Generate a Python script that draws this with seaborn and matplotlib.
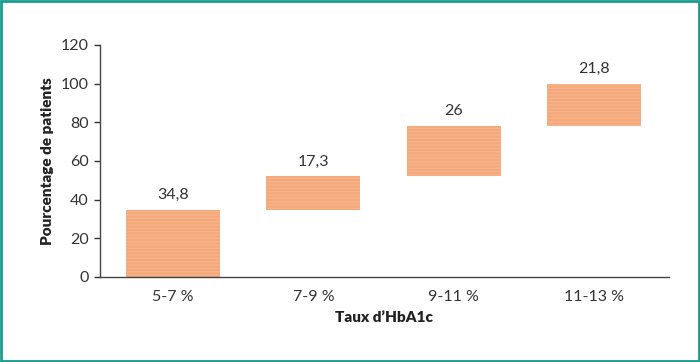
import numpy as np
import pandas as pd
import matplotlib.pyplot as plt
import seaborn as sns
from matplotlib.patches import Rectangle

categories = ['5-7 %', '7-9 %', '9-11 %', '11-13 %']
values = [34.8, 17.3, 26, 21.8]
labels = ['34,8', '17,3', '26', '21,8']

# waterfall: each bar starts where the previous one ended
bottoms = np.concatenate([[0], np.cumsum(values)[:-1]])
df = pd.DataFrame({'cat': categories, 'val': values, 'bottom': bottoms})

sns.set_style('white')
plt.rcParams['font.family'] = ['Lato', 'DejaVu Sans']
plt.rcParams['hatch.color'] = '#F7B892'

fig = plt.figure(figsize=(7, 3.62), dpi=100)
ax = fig.add_axes([0.143, 0.235, 0.812, 0.641])

sns.barplot(data=df, x='cat', y='val', bottom=df['bottom'].values, color='#F5A97A',
            saturation=1, width=0.67, ax=ax, hatch='-----', edgecolor='#F7B28A', linewidth=0)

for i, (b, v, lab) in enumerate(zip(bottoms, values, labels)):
    ax.text(i, b + v + 4, lab, ha='center', va='bottom', fontsize=11.5, color='#333333')

ax.set_ylim(0, 120)
ax.set_yticks(range(0, 121, 20))
ax.set_xlim(-0.52, 3.53)
ax.set_xlabel("Taux d’HbA1c", fontsize=11, fontweight='heavy', color='#222222', labelpad=5)
ax.set_ylabel('Pourcentage de patients', fontsize=11, fontweight='heavy', color='#222222', labelpad=5)
ax.tick_params(axis='y', left=True, length=4, width=1, color='#333333', labelsize=11.5, labelcolor='#333333', pad=4)
ax.tick_params(axis='x', bottom=False, labelsize=11.5, labelcolor='#333333', pad=6)
for s in ['top', 'right']:
    ax.spines[s].set_visible(False)
for s in ['left', 'bottom']:
    ax.spines[s].set_color('#444444')
    ax.spines[s].set_linewidth(1)

fig.patches.append(Rectangle((0.002, 0.003), 0.996, 0.994, transform=fig.transFigure,
                             fill=False, edgecolor='#1A9C8C', linewidth=2))

fig.savefig('out.png', dpi=100)
